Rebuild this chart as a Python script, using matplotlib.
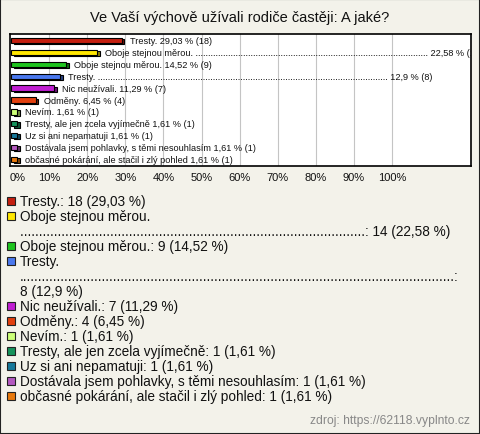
import matplotlib
matplotlib.use("Agg")
import matplotlib.pyplot as plt
import matplotlib.colors as mc
from matplotlib.patches import Rectangle

plt.rcParams['font.family'] = ['Liberation Sans', 'DejaVu Sans']

title = "Ve Vaší výchově užívali rodiče častěji: A jaké?"
categories = [
    "Tresty.",
    "Oboje stejnou měrou.",
    "Oboje stejnou měrou.",
    "Tresty.",
    "Nic neužívali.",
    "Odměny.",
    "Nevím.",
    "Tresty, ale jen zcela vyjímečně",
    "Uz si ani nepamatuji",
    "Dostávala jsem pohlavky, s těmi nesouhlasím",
    "občasné pokárání, ale stačil i zlý pohled",
]
counts = [18, 14, 9, 8, 7, 4, 1, 1, 1, 1, 1]
percents = [29.03, 22.58, 14.52, 12.9, 11.29, 6.45, 1.61, 1.61, 1.61, 1.61, 1.61]
percent_labels = ["29,03", "22,58", "14,52", "12,9", "11,29", "6,45",
                  "1,61", "1,61", "1,61", "1,61", "1,61"]
# answers whose original text continued on a dotted second line
dotted = [False, True, False, True, False, False, False, False, False, False, False]
colors = ["#c41f10", "#ffe600", "#1ec41e", "#4a78ee", "#c01ed2", "#e2400f",
          "#ccff77", "#15935c", "#16789a", "#b459c0", "#e8790c"]
xticks = list(range(0, 101, 10))
xtick_labels = [f"{t}%" for t in xticks]
source = "zdroj: https://62118.vyplnto.cz"

W, H = 480, 435
fig = plt.figure(figsize=(W / 100, H / 100), dpi=100)
bg = "#f3f2ea"
fig.patch.set_facecolor(bg)

def fx(px):
    return px / W

def fy(py):
    return 1 - py / H

# outer border
fig.patches.append(Rectangle((0, 0), 1, 1, transform=fig.transFigure,
                             fill=False, edgecolor="#222222", lw=1.5))

fig.text(0.5, fy(18), title, ha="center", va="center", fontsize=10.5, color="#111111")

ax_l, ax_r, ax_t, ax_b = 10, 471, 35, 167
zero_px = 11
px_per_pct = 3.81
ax = fig.add_axes([fx(ax_l), fy(ax_b), fx(ax_r - ax_l), (ax_b - ax_t) / H])
ax.set_facecolor("white")
x0 = -(zero_px - ax_l) / px_per_pct
x1 = x0 + (ax_r - ax_l) / px_per_pct
ax.set_xlim(x0, x1)
n = len(categories)
ax.set_ylim(n - 0.5 + 0.05, -0.5 - 0.05)
for t in xticks[1:]:
    ax.axvline(t, color="#c4c4c4", lw=0.8, zorder=0)
ax.set_xticks([])
ax.set_yticks([])
for s in ax.spines.values():
    s.set_color("black")
    s.set_linewidth(1.2)

ys = list(range(n))
bh = 0.44
dx = 2.5 / px_per_pct
dy = 0.2
darker = []
for c in colors:
    r, g, b = mc.to_rgb(c)
    darker.append((r * 0.55, g * 0.55, b * 0.55))
ax.barh([y + dy * 0.5 for y in ys], percents, height=bh, left=dx, color=darker,
        edgecolor="black", lw=0.8, zorder=2)
ax.barh(ys, percents, height=bh, left=0, color=colors, edgecolor="black",
        lw=0.8, zorder=3)

for y, cat, p, pl, c, d in zip(ys, categories, percents, percent_labels, counts, dotted):
    if d:
        ndots = 93 if cat.startswith("Oboje") else 116
        lab = f"{cat} {'.' * ndots} {pl} % ({c})"
    else:
        lab = f"{cat} {pl} % ({c})"
    ax.text(p + 8 / px_per_pct, y, lab, va="center", ha="left", fontsize=6.6,
            color="#111111", clip_on=True, zorder=4)

for t, lab in zip(xticks, xtick_labels):
    xpix = zero_px + t * px_per_pct
    if t == 0:
        xpix = 18
    fig.text(fx(xpix), fy(178), lab, ha="center", va="center", fontsize=8, color="#111111")

# legend
lines = []
for cat, pl, c, d, col in zip(categories, percent_labels, counts, dotted, colors):
    if d and cat.startswith("Oboje"):
        lines.append((col, cat))
        lines.append((None, "." * 92 + f": {c} ({pl} %)"))
    elif d:
        lines.append((col, cat))
        lines.append((None, "." * 116 + ":"))
        lines.append((None, f"{c} ({pl} %)"))
    else:
        lines.append((col, f"{cat}: {c} ({pl} %)"))

y0 = 202
step = 15
for i, (col, txt) in enumerate(lines):
    yy = y0 + i * step
    if col is not None:
        fig.patches.append(Rectangle((fx(7), fy(yy + 4)), fx(8), 8 / H,
                                     transform=fig.transFigure, facecolor=col,
                                     edgecolor="#222222", lw=0.8))
    fig.text(fx(20), fy(yy), txt, ha="left", va="center", fontsize=9.8, color="#111111")

fig.text(fx(470), fy(421), source, ha="right", va="center", fontsize=8.7, color="#888888")

fig.savefig("out.png", dpi=100, facecolor=bg)
